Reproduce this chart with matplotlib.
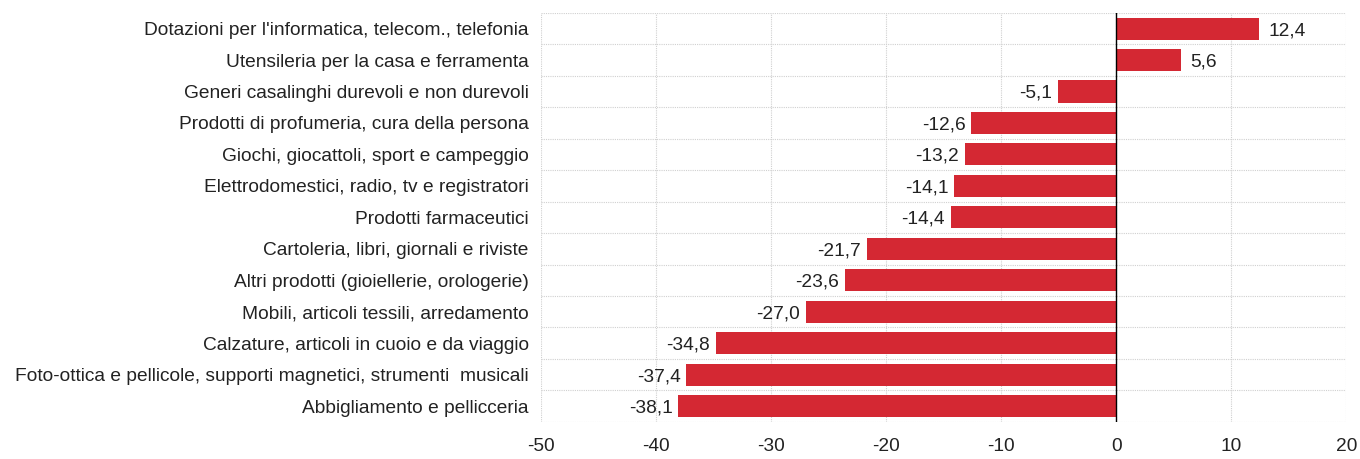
import matplotlib
matplotlib.use("Agg")
import matplotlib.pyplot as plt
import numpy as np

categories = [
    "Dotazioni per l'informatica, telecom., telefonia",
    "Utensileria per la casa e ferramenta",
    "Generi casalinghi durevoli e non durevoli",
    "Prodotti di profumeria, cura della persona",
    "Giochi, giocattoli, sport e campeggio",
    "Elettrodomestici, radio, tv e registratori",
    "Prodotti farmaceutici",
    "Cartoleria, libri, giornali e riviste",
    "Altri prodotti (gioiellerie, orologerie)",
    "Mobili, articoli tessili, arredamento",
    "Calzature, articoli in cuoio e da viaggio",
    "Foto-ottica e pellicole, supporti magnetici, strumenti  musicali",
    "Abbigliamento e pellicceria",
]
values = [12.4, 5.6, -5.1, -12.6, -13.2, -14.1, -14.4, -21.7, -23.6, -27.0, -34.8, -37.4, -38.1]
xticks = [-50, -40, -30, -20, -10, 0, 10, 20]

plt.rcParams['font.family'] = ['Liberation Sans', 'DejaVu Sans']
fs = 13.8

fig = plt.figure(figsize=(13.6, 4.59), dpi=100)
ax = fig.add_axes([0.398, 0.081, 0.592, 0.891])

n = len(categories)
y = np.arange(n)
ax.barh(y, values, height=0.7, color="#D42833", zorder=3)
ax.set_ylim(n - 0.5, -0.5)
ax.set_xlim(-50, 20)

# dotted grid, light
for b in np.arange(n + 1) - 0.5:
    ax.axhline(b, color="#D0D0D0", lw=0.8, ls=(0, (1, 1)), zorder=1)
for t in xticks:
    ax.axvline(t, color="#D0D0D0", lw=0.8, ls=(0, (1, 1)), zorder=1)
ax.axvline(0, color="black", lw=1.0, zorder=4)

for yi, v in zip(y, values):
    txt = f"{v:.1f}".replace(".", ",")
    if v >= 0:
        ax.text(v + 0.8, yi, txt, va="center_baseline", ha="left", fontsize=fs, color="#222222")
    else:
        ax.text(v - 0.5, yi, txt, va="center_baseline", ha="right", fontsize=fs, color="#222222")

ax.set_yticks(y)
ax.set_yticklabels(categories, fontsize=fs, color="#222222")
ax.set_xticks(xticks)
ax.set_xticklabels([str(t) for t in xticks], fontsize=fs, color="#222222")
ax.tick_params(axis="both", length=0)
ax.tick_params(axis="y", pad=9)
ax.tick_params(axis="x", pad=12)
for s in ax.spines.values():
    s.set_visible(False)

fig.savefig("out.png", dpi=100)
